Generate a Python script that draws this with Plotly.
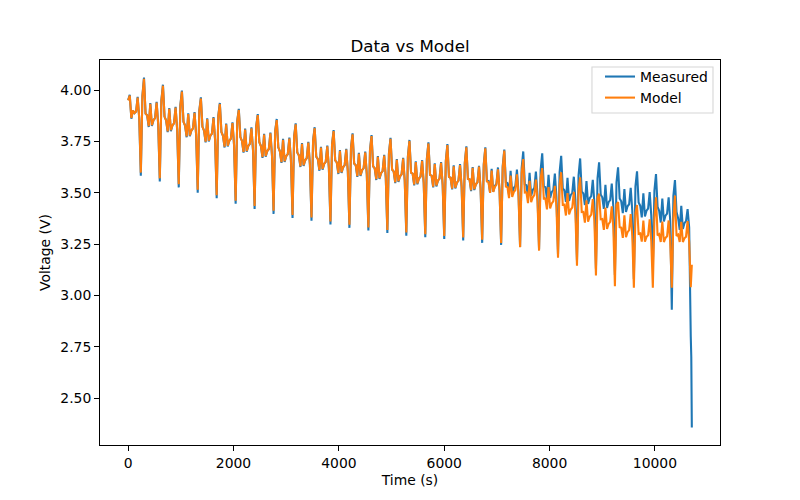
import numpy as np
import plotly.graph_objects as go

# Sampling step of the voltage records (s)
SAMPLE_STEP_S = 30

# Measured voltage (V), one row per 360 s pulse cycle (12 samples each)
measured_cycles = [
    [3.951, 3.977, 3.860, 3.900, 3.888, 3.895, 3.967, 3.860, 3.583, 3.972, 4.061, 3.885],
    [3.877, 3.820, 3.937, 3.825, 3.853, 3.863, 3.943, 3.830, 3.555, 3.950, 4.026, 3.871],
    [3.852, 3.795, 3.912, 3.800, 3.828, 3.838, 3.918, 3.805, 3.526, 3.925, 3.997, 3.846],
    [3.827, 3.770, 3.887, 3.775, 3.803, 3.813, 3.893, 3.780, 3.500, 3.900, 3.964, 3.821],
    [3.802, 3.745, 3.862, 3.750, 3.778, 3.788, 3.868, 3.755, 3.473, 3.875, 3.937, 3.796],
    [3.777, 3.720, 3.837, 3.725, 3.753, 3.763, 3.843, 3.730, 3.446, 3.850, 3.908, 3.771],
    [3.752, 3.695, 3.812, 3.700, 3.728, 3.738, 3.818, 3.705, 3.421, 3.825, 3.883, 3.746],
    [3.727, 3.670, 3.787, 3.675, 3.703, 3.713, 3.793, 3.680, 3.397, 3.800, 3.859, 3.721],
    [3.702, 3.645, 3.762, 3.650, 3.678, 3.688, 3.768, 3.655, 3.377, 3.775, 3.838, 3.696],
    [3.682, 3.625, 3.742, 3.630, 3.658, 3.668, 3.748, 3.635, 3.364, 3.755, 3.819, 3.676],
    [3.664, 3.607, 3.724, 3.612, 3.640, 3.650, 3.730, 3.617, 3.345, 3.737, 3.805, 3.658],
    [3.648, 3.591, 3.708, 3.596, 3.624, 3.634, 3.714, 3.601, 3.329, 3.721, 3.789, 3.642],
    [3.634, 3.577, 3.694, 3.582, 3.610, 3.620, 3.700, 3.587, 3.316, 3.707, 3.781, 3.628],
    [3.619, 3.562, 3.679, 3.567, 3.595, 3.605, 3.685, 3.572, 3.304, 3.692, 3.767, 3.613],
    [3.604, 3.547, 3.664, 3.552, 3.580, 3.590, 3.670, 3.557, 3.291, 3.677, 3.757, 3.598],
    [3.593, 3.536, 3.653, 3.541, 3.569, 3.579, 3.659, 3.546, 3.283, 3.666, 3.745, 3.587],
    [3.583, 3.526, 3.643, 3.531, 3.559, 3.569, 3.649, 3.536, 3.275, 3.656, 3.737, 3.577],
    [3.573, 3.516, 3.633, 3.521, 3.549, 3.559, 3.639, 3.526, 3.267, 3.646, 3.726, 3.567],
    [3.565, 3.508, 3.625, 3.513, 3.541, 3.551, 3.631, 3.518, 3.256, 3.638, 3.721, 3.559],
    [3.557, 3.500, 3.617, 3.505, 3.533, 3.543, 3.623, 3.510, 3.246, 3.630, 3.710, 3.551],
    [3.547, 3.490, 3.607, 3.495, 3.523, 3.533, 3.613, 3.500, 3.236, 3.620, 3.701, 3.541],
    [3.537, 3.480, 3.597, 3.485, 3.513, 3.523, 3.603, 3.490, 3.225, 3.610, 3.692, 3.531],
    [3.527, 3.470, 3.587, 3.475, 3.503, 3.513, 3.593, 3.480, 3.200, 3.600, 3.680, 3.521],
    [3.512, 3.455, 3.572, 3.460, 3.488, 3.498, 3.578, 3.465, 3.170, 3.585, 3.667, 3.506],
    [3.497, 3.440, 3.557, 3.445, 3.473, 3.483, 3.563, 3.450, 3.130, 3.570, 3.648, 3.491],
    [3.478, 3.421, 3.538, 3.426, 3.454, 3.464, 3.544, 3.431, 3.100, 3.551, 3.624, 3.472],
    [3.458, 3.401, 3.518, 3.406, 3.434, 3.444, 3.524, 3.411, 3.080, 3.531, 3.604, 3.452],
    [3.437, 3.380, 3.497, 3.385, 3.413, 3.423, 3.503, 3.390, 3.140, 3.510, 3.591, 3.431],
    [3.412, 3.355, 3.472, 3.360, 3.388, 3.398, 3.478, 3.365, 2.930, 3.485, 3.562, 3.406],
    [3.376, 3.319, 3.436, 3.324, 3.352, 3.362, 3.420, 3.330, 2.800],
]

# Model voltage (V), same sampling
model_cycles = [
    [3.950, 3.973, 3.864, 3.900, 3.888, 3.895, 3.963, 3.864, 3.598, 3.968, 4.055, 3.885],
    [3.877, 3.824, 3.933, 3.829, 3.853, 3.863, 3.939, 3.834, 3.570, 3.946, 4.021, 3.871],
    [3.852, 3.799, 3.908, 3.804, 3.828, 3.838, 3.914, 3.809, 3.541, 3.921, 3.992, 3.846],
    [3.827, 3.774, 3.883, 3.779, 3.803, 3.813, 3.889, 3.784, 3.515, 3.896, 3.959, 3.821],
    [3.802, 3.749, 3.858, 3.754, 3.778, 3.788, 3.864, 3.759, 3.488, 3.871, 3.932, 3.796],
    [3.777, 3.724, 3.833, 3.729, 3.753, 3.763, 3.839, 3.734, 3.461, 3.846, 3.903, 3.771],
    [3.752, 3.699, 3.808, 3.704, 3.728, 3.738, 3.814, 3.709, 3.436, 3.821, 3.878, 3.746],
    [3.727, 3.674, 3.783, 3.679, 3.703, 3.713, 3.789, 3.684, 3.412, 3.796, 3.854, 3.721],
    [3.702, 3.649, 3.758, 3.654, 3.678, 3.688, 3.764, 3.659, 3.392, 3.771, 3.833, 3.696],
    [3.682, 3.629, 3.738, 3.634, 3.658, 3.668, 3.744, 3.639, 3.379, 3.751, 3.814, 3.676],
    [3.664, 3.611, 3.720, 3.616, 3.640, 3.650, 3.726, 3.621, 3.360, 3.733, 3.800, 3.658],
    [3.648, 3.595, 3.704, 3.600, 3.624, 3.634, 3.710, 3.605, 3.344, 3.717, 3.784, 3.642],
    [3.634, 3.581, 3.690, 3.586, 3.610, 3.620, 3.696, 3.591, 3.331, 3.703, 3.776, 3.628],
    [3.619, 3.566, 3.675, 3.571, 3.595, 3.605, 3.681, 3.576, 3.319, 3.688, 3.762, 3.613],
    [3.604, 3.551, 3.660, 3.556, 3.580, 3.590, 3.666, 3.561, 3.306, 3.673, 3.752, 3.598],
    [3.593, 3.540, 3.649, 3.545, 3.569, 3.579, 3.655, 3.550, 3.298, 3.662, 3.740, 3.587],
    [3.583, 3.530, 3.639, 3.535, 3.559, 3.569, 3.645, 3.540, 3.290, 3.652, 3.732, 3.577],
    [3.573, 3.520, 3.629, 3.525, 3.549, 3.559, 3.635, 3.530, 3.282, 3.642, 3.721, 3.567],
    [3.565, 3.512, 3.621, 3.517, 3.541, 3.551, 3.627, 3.522, 3.271, 3.634, 3.716, 3.555],
    [3.552, 3.499, 3.608, 3.504, 3.528, 3.538, 3.614, 3.509, 3.255, 3.621, 3.705, 3.530],
    [3.527, 3.474, 3.583, 3.479, 3.503, 3.513, 3.589, 3.484, 3.235, 3.596, 3.664, 3.501],
    [3.502, 3.449, 3.558, 3.454, 3.478, 3.488, 3.564, 3.459, 3.218, 3.571, 3.620, 3.471],
    [3.472, 3.419, 3.528, 3.424, 3.448, 3.458, 3.534, 3.429, 3.183, 3.541, 3.600, 3.441],
    [3.442, 3.389, 3.498, 3.394, 3.418, 3.428, 3.504, 3.399, 3.145, 3.511, 3.575, 3.406],
    [3.407, 3.354, 3.463, 3.359, 3.383, 3.393, 3.469, 3.364, 3.097, 3.476, 3.495, 3.371],
    [3.372, 3.319, 3.428, 3.324, 3.348, 3.358, 3.434, 3.329, 3.045, 3.441, 3.455, 3.332],
    [3.330, 3.280, 3.390, 3.284, 3.308, 3.318, 3.396, 3.289, 3.037, 3.401, 3.440, 3.300],
    [3.302, 3.262, 3.365, 3.262, 3.285, 3.293, 3.370, 3.264, 3.037, 3.376, 3.478, 3.292],
    [3.298, 3.260, 3.360, 3.260, 3.280, 3.288, 3.365, 3.262, 3.037, 3.372, 3.486, 3.290],
    [3.296, 3.260, 3.358, 3.260, 3.278, 3.286, 3.362, 3.260, 3.040],
]

# Final samples at the end of the test
tail_time_s = [10690, 10700]
measured_tail = [2.700, 2.357]
model_tail = [3.140, 3.150]

x_ticks = [0, 2000, 4000, 6000, 8000, 10000]
y_ticks = [2.50, 2.75, 3.00, 3.25, 3.50, 3.75, 4.00]

measured = [v for row in measured_cycles for v in row] + measured_tail
model = [v for row in model_cycles for v in row] + model_tail
n_grid = len(measured) - len(measured_tail)
time_s = [i * SAMPLE_STEP_S for i in range(n_grid)] + tail_time_s

LW = 1.5 * 100 / 72  # matplotlib 1.5 pt lines at 100 dpi

fig = go.Figure()
fig.add_trace(go.Scatter(x=time_s, y=measured, mode="lines", name="Measured",
                         line=dict(color="#1f77b4", width=LW)))
fig.add_trace(go.Scatter(x=time_s, y=model, mode="lines", name="Model",
                         line=dict(color="#ff7f0e", width=LW)))

t_max = max(time_s)
y_min, y_max = min(measured + model), max(measured + model)
pad_y = 0.05 * (y_max - y_min)

FONT = "DejaVu Sans"
axis_common = dict(showline=True, linecolor="black", linewidth=1.1, mirror=True,
                   ticks="outside", ticklen=4.9, tickwidth=1.1, tickcolor="black",
                   showgrid=False, zeroline=False, automargin=False,
                   tickfont=dict(family=FONT, size=13.9, color="black"))

# Legend frame (matplotlib style box)
fig.add_shape(type="rect", xref="paper", yref="paper",
              x0=0.7935, x1=0.9887, y0=0.8623, y1=0.9818,
              line=dict(color="#d6d6d6", width=1.1),
              fillcolor="rgba(255,255,255,0.8)", layer="above")

# The page body has an 8 px margin, so the figure is 8 px smaller than the window
fig.update_layout(
    width=792, height=492,
    margin=dict(l=92, r=80, t=52, b=55, autoexpand=False),
    plot_bgcolor="white", paper_bgcolor="white",
    font=dict(family=FONT, size=13.9, color="black"),
    title=dict(text="Data vs Model", x=0.5, xref="paper", xanchor="center",
               y=1 - 38 / 492, yref="container", yanchor="middle",
               font=dict(family=FONT, size=16.7, color="black")),
    legend=dict(x=0.9887, y=0.9974, xanchor="right", yanchor="top",
                bgcolor="rgba(0,0,0,0)", borderwidth=0, tracegroupgap=0,
                font=dict(family=FONT, size=13.9, color="black")),
    xaxis=dict(range=[-0.05 * t_max, 1.05 * t_max], tickvals=x_ticks,
               ticktext=[str(v) for v in x_ticks],
               title=dict(text="Time (s)", standoff=5,
                          font=dict(family=FONT, size=13.9, color="black")),
               **axis_common),
    yaxis=dict(range=[y_min - pad_y, y_max + pad_y], tickvals=y_ticks, tickformat=".2f",
               title=dict(text="Voltage (V)", standoff=6,
                          font=dict(family=FONT, size=13.9, color="black")),
               **axis_common),
)

fig.write_html("out.html")
